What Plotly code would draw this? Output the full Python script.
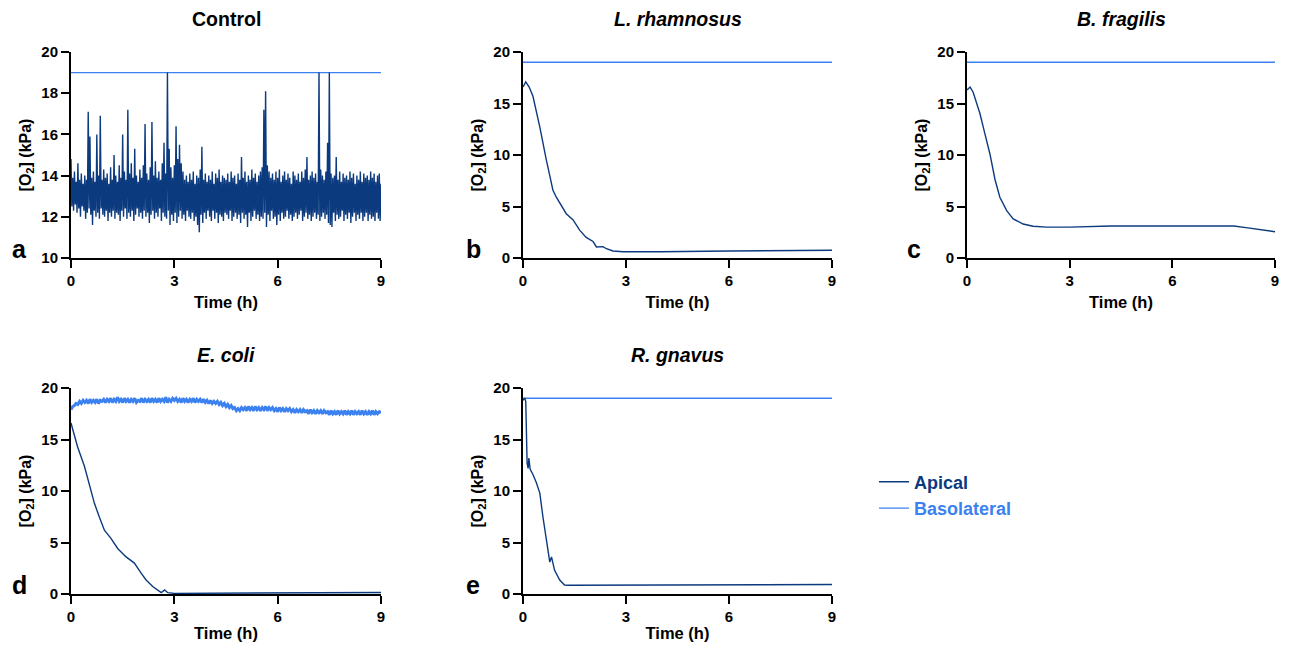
import plotly.graph_objects as go
from plotly.subplots import make_subplots

# ---- data ----
hours_ticks = [0, 3, 6, 9]

# Control: basolateral flat, apical noisy trace sampled every 0.025 h
ctrl_ap = [
    14.8, 12.5, 13.9, 12.3, 14.2, 12.6, 13.7, 12.2, 14.6, 12.4, 13.8, 12.0, 14.1, 12.5, 13.6, 12.3, 14.0, 11.9, 13.8, 12.2,
    17.1, 12.4, 15.9, 12.1, 13.9, 11.6, 14.2, 12.3, 13.7, 12.0, 16.0, 12.2, 14.0, 11.9, 16.9, 12.4, 13.8, 12.1, 14.3, 12.0,
    13.9, 12.3, 14.1, 11.8, 13.6, 12.2, 14.4, 12.0, 13.8, 12.3, 15.0, 11.9, 14.0, 12.2, 13.7, 12.1, 14.5, 11.8, 13.9, 12.3,
    16.0, 12.0, 14.2, 12.4, 13.8, 11.9, 17.2, 12.2, 14.1, 12.0, 14.6, 12.3, 13.9, 11.8, 15.3, 12.1, 14.0, 12.4, 13.7, 12.0,
    14.3, 12.2, 13.9, 11.9, 14.5, 12.3, 16.5, 12.0, 14.1, 12.2, 13.8, 11.7, 14.4, 12.1, 16.6, 12.3, 14.0, 11.9, 14.7, 12.2,
    13.9, 12.0, 14.2, 12.4, 13.8, 11.8, 14.6, 12.2, 15.6, 12.0, 14.1, 11.9, 19.0, 12.3, 15.3, 11.6, 14.4, 12.1, 13.9, 11.8,
    14.5, 12.2, 16.4, 11.7, 14.8, 12.0, 15.5, 12.3, 14.6, 11.9, 14.2, 12.1, 13.8, 11.8, 14.0, 12.3, 13.7, 12.0, 14.1, 11.9,
    13.8, 12.2, 14.2, 11.8, 13.6, 12.0, 14.0, 11.6, 13.9, 11.25, 14.3, 12.1, 15.4, 11.7, 13.8, 12.2, 14.1, 11.9, 13.7, 12.3,
    14.0, 12.0, 13.8, 11.8, 14.2, 12.3, 13.6, 11.9, 14.1, 12.2, 13.9, 11.7, 14.3, 12.1, 13.7, 12.0, 14.0, 11.8, 13.9, 12.2,
    13.8, 12.1, 14.1, 11.9, 13.7, 12.3, 14.2, 11.8, 13.9, 12.0, 14.0, 12.2, 13.6, 11.9, 14.1, 12.1, 13.8, 11.7, 14.9, 12.2,
    13.9, 11.9, 14.2, 12.1, 13.7, 11.5, 14.0, 12.2, 13.8, 11.8, 14.3, 12.0, 13.9, 12.3, 14.1, 11.9, 13.7, 12.1, 14.0, 11.8,
    14.2, 12.0, 14.4, 11.9, 17.2, 12.2, 18.1, 11.5, 14.5, 12.1, 14.2, 11.8, 13.9, 12.3, 14.1, 11.9, 13.8, 12.0, 14.2, 11.6,
    13.9, 12.1, 14.3, 11.8, 13.7, 12.2, 14.0, 11.9, 14.2, 12.0, 13.8, 12.3, 14.1, 11.9, 13.9, 12.1, 13.6, 11.8, 14.2, 12.0,
    14.0, 12.2, 13.8, 11.9, 14.1, 12.1, 13.7, 12.3, 14.2, 11.8, 13.9, 12.0, 14.3, 12.2, 14.9, 11.9, 13.8, 12.1, 14.0, 11.8,
    14.2, 12.0, 13.9, 12.2, 14.1, 11.9, 13.7, 12.1, 19.0, 11.8, 14.3, 12.0, 14.0, 12.2, 13.8, 11.9, 14.2, 12.1, 15.6, 11.7,
    19.0, 11.6, 14.1, 11.5, 13.9, 12.2, 14.0, 11.8, 14.9, 12.1, 13.8, 11.9, 14.2, 12.0, 13.7, 12.3, 14.1, 11.8, 13.9, 12.1,
    14.0, 11.9, 13.8, 12.2, 14.2, 11.7, 13.9, 12.0, 14.1, 12.2, 13.6, 11.8, 14.0, 12.1, 13.8, 11.9, 14.2, 12.2, 13.7, 11.8,
    14.1, 12.0, 13.9, 12.2, 14.0, 11.8, 13.8, 12.1, 14.2, 11.9, 13.9, 12.0, 14.1, 11.8, 13.7, 12.2, 14.0, 11.9, 14.1, 11.8,
    13.6,
]
ctrl_t = [i * 0.025 for i in range(len(ctrl_ap))]

flat_t = [0, 9]
flat_baso = [19.0, 19.0]

# L. rhamnosus
lr_t = [0, 0.08, 0.18, 0.29, 0.49, 0.58, 0.68, 0.78, 0.87, 0.97, 1.07, 1.26, 1.46, 1.65, 1.84, 2.04, 2.14,
        2.25, 2.33, 2.43, 2.62, 2.91, 4.0, 6.0, 7.4, 9.0]
lr_ap = [16.6, 17.1, 16.6, 15.7, 12.7, 11.1, 9.5, 8.0, 6.6, 5.9, 5.3, 4.3, 3.7, 2.7, 2.0, 1.6, 1.07,
         1.05, 1.1, 0.9, 0.68, 0.6, 0.6, 0.68, 0.72, 0.75]

# B. fragilis
bf_t = [0, 0.09, 0.18, 0.28, 0.38, 0.52, 0.67, 0.82, 0.96, 1.16, 1.35, 1.64, 1.93, 2.32, 3.0, 4.2, 6.0,
        7.8, 8.15, 8.63, 9.0]
bf_ap = [16.3, 16.6, 16.1, 15.0, 14.0, 12.1, 10.1, 7.6, 5.9, 4.6, 3.8, 3.3, 3.08, 3.0, 3.0, 3.1, 3.1,
         3.1, 2.95, 2.75, 2.55]

# E. coli
ec_t = [0, 0.19, 0.39, 0.53, 0.68, 0.82, 0.97, 1.16, 1.36, 1.6, 1.84, 2.04, 2.18, 2.38, 2.62, 2.72,
        2.81, 3.0, 6.0, 9.0]
ec_ap = [16.6, 14.3, 12.4, 10.7, 8.8, 7.5, 6.2, 5.4, 4.4, 3.6, 3.0, 2.0, 1.36, 0.7, 0.13, 0.4,
         0.13, 0.06, 0.1, 0.15]
# basolateral E. coli, noisy trace every 0.05 h
ec_baso = [17.9, 18.2, 18.3, 18.5, 18.4, 18.7, 18.5, 18.8, 18.6, 18.8, 18.5, 18.9, 18.6, 18.8, 18.6, 18.9,
           18.5, 18.8, 18.7, 18.9, 18.6, 18.9, 18.7, 19.0, 18.6, 18.9, 18.7, 19.1, 18.7, 18.9, 18.6, 19.0,
           18.7, 18.9, 18.6, 18.9, 18.7, 19.0, 18.6, 18.8, 18.7, 19.0, 18.6, 18.9, 18.7, 18.9, 18.6, 19.0,
           18.7, 18.9, 18.6, 19.0, 18.7, 18.9, 18.7, 19.1, 18.6, 18.9, 18.7, 19.0, 18.8, 19.0, 18.7, 18.9,
           18.6, 19.0, 18.7, 18.9, 18.6, 18.9, 18.7, 19.0, 18.6, 18.9, 18.7, 18.9, 18.6, 18.9, 18.6, 18.8,
           18.5, 18.8, 18.5, 18.7, 18.5, 18.7, 18.4, 18.6, 18.3, 18.5, 18.2, 18.4, 18.1, 18.3, 18.0, 18.1,
           17.8, 18.0, 17.8, 18.1, 17.9, 18.1, 17.8, 18.2, 17.9, 18.1, 17.8, 18.2, 17.9, 18.1, 17.8, 18.1,
           17.9, 18.2, 17.8, 18.1, 17.9, 18.1, 17.8, 18.0, 17.7, 18.1, 17.8, 18.0, 17.7, 18.0, 17.8, 18.0,
           17.7, 17.9, 17.6, 17.9, 17.7, 17.9, 17.6, 17.9, 17.7, 17.8, 17.5, 17.9, 17.6, 17.8, 17.5, 17.8,
           17.6, 17.8, 17.5, 17.8, 17.6, 17.7, 17.4, 17.8, 17.5, 17.7, 17.4, 17.8, 17.5, 17.7, 17.5, 17.8,
           17.4, 17.7, 17.5, 17.8, 17.4, 17.7, 17.5, 17.7, 17.4, 17.8, 17.5, 17.7, 17.4, 17.7, 17.5, 17.8,
           17.4, 17.7, 17.5, 17.7, 17.6]
ec_baso_t = [i * 0.05 for i in range(len(ec_baso))]

# R. gnavus
rg_t = [0, 0.05, 0.08, 0.12, 0.15, 0.17, 0.21, 0.29, 0.39, 0.49, 0.58, 0.68, 0.78, 0.83, 0.92, 1.07,
        1.21, 1.31, 3.0, 6.0, 9.0]
rg_ap = [18.8, 19.0, 18.7, 12.7, 12.2, 13.2, 12.1, 11.6, 10.8, 9.8, 7.5, 5.2, 3.1, 3.6, 2.3, 1.36,
         0.87, 0.85, 0.85, 0.88, 0.92]

APICAL = '#0c3a7e'
BASO = '#3b82f0'
FONT = 'Liberation Sans, Arial, sans-serif'

# the page puts the figure 8px in from the window corner
OFF = 8
W, H = 1290 - 2 * OFF, 650 - 2 * OFF


def px_x(x):
    return (x - OFF) / W


def px_y(y):
    return 1 - (y - OFF) / H


# panel layout in screen pixels: (x_left, x_right), (y_top, y_bottom)
cols_px = [(71, 381), (523, 832), (967, 1275)]
rows_px = [(52, 258), (388, 594)]
letter_x = [10, 464, 905]

panels = [
    # row, col, title, letter, apical (t, y), basolateral (t, y), y range, y ticks
    (1, 1, '<b>Control</b>', 'a', (ctrl_t, ctrl_ap), (flat_t, flat_baso), [10, 20], [10, 12, 14, 16, 18, 20]),
    (1, 2, '<b><i>L. rhamnosus</i></b>', 'b', (lr_t, lr_ap), (flat_t, flat_baso), [0, 20], [0, 5, 10, 15, 20]),
    (1, 3, '<b><i>B. fragilis</i></b>', 'c', (bf_t, bf_ap), (flat_t, flat_baso), [0, 20], [0, 5, 10, 15, 20]),
    (2, 1, '<b><i>E. coli</i></b>', 'd', (ec_t, ec_ap), (ec_baso_t, ec_baso), [0, 20], [0, 5, 10, 15, 20]),
    (2, 2, '<b><i>R. gnavus</i></b>', 'e', (rg_t, rg_ap), (flat_t, flat_baso), [0, 20], [0, 5, 10, 15, 20]),
]

fig = make_subplots(rows=2, cols=3,
                    specs=[[{}, {}, {}], [{}, {}, None]])

for i, (r, c, title, letter, ap, baso, yrange, yticks) in enumerate(panels):
    first = i == 0
    is_ecoli = letter == 'd'
    fig.add_trace(go.Scatter(x=baso[0], y=baso[1], mode='lines',
                             name=f"<span style='color:{BASO}'><b>Basolateral</b></span>",
                             legendrank=2,
                             line=dict(color=BASO, width=3 if is_ecoli else 1.4),
                             showlegend=first),
                  row=r, col=c)
    fig.add_trace(go.Scatter(x=ap[0], y=ap[1], mode='lines',
                             name=f"<span style='color:{APICAL}'><b>Apical</b></span>",
                             legendrank=1,
                             line=dict(color=APICAL, width=1.4),
                             showlegend=first),
                  row=r, col=c)

    x0, x1 = cols_px[c - 1]
    y0, y1 = rows_px[r - 1]
    fig.update_xaxes(domain=[px_x(x0), px_x(x1)], range=[0, 9], tickvals=hours_ticks,
                     title=dict(text='<b>Time (h)</b>', standoff=8,
                                font=dict(size=16.5, color='black', family=FONT)),
                     row=r, col=c)
    fig.update_yaxes(domain=[px_y(y1), px_y(y0)], range=yrange, tickvals=yticks,
                     title=dict(text='<b>[O<sub>2</sub>] (kPa)</b>', standoff=6,
                                font=dict(size=16, color='black', family=FONT)),
                     row=r, col=c)

    # subplot title
    fig.add_annotation(x=px_x((x0 + x1) / 2), y=px_y(y0 - 33), xref='paper', yref='paper',
                       text=title, showarrow=False, xanchor='center', yanchor='middle',
                       font=dict(size=19.5, color='black', family=FONT))
    # panel letter
    fig.add_annotation(x=px_x(letter_x[c - 1]), y=px_y(y1 - 9), xref='paper', yref='paper',
                       text=f'<b>{letter}</b>', showarrow=False, xanchor='left', yanchor='middle',
                       font=dict(size=25, color='black', family=FONT))

axis_style = dict(showline=True, linecolor='black', linewidth=2, mirror=False,
                  ticks='outside', ticklen=8, tickwidth=2, tickcolor='black',
                  showgrid=False, zeroline=False, automargin=False,
                  tickfont=dict(size=15, color='black', family=FONT, weight='bold'))
fig.update_xaxes(**axis_style)
fig.update_yaxes(**axis_style)

fig.update_layout(
    width=W, height=H,
    margin=dict(l=0, r=0, t=0, b=0, autoexpand=False),
    plot_bgcolor='white', paper_bgcolor='white',
    font=dict(family=FONT, color='black'),
    showlegend=True,
    legend=dict(x=px_x(874), y=px_y(495), xanchor='left', yanchor='middle',
                bgcolor='rgba(0,0,0,0)', borderwidth=0,
                font=dict(size=18, family=FONT),
                itemwidth=30, tracegroupgap=0),
)

fig.write_html("out.html")
